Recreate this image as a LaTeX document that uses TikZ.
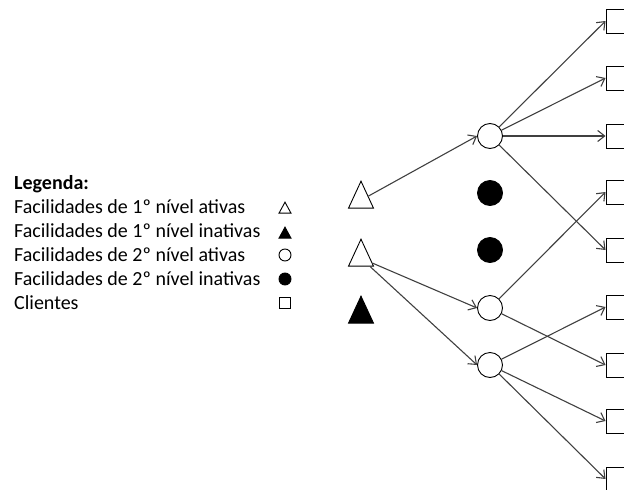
\documentclass[tikz,border=0pt]{standalone}
\usepackage{fontspec}
\setmainfont{Carlito}
\usetikzlibrary{shapes.geometric,arrows.meta}
\begin{document}
\begin{tikzpicture}[x=1pt,y=-1pt,
  client/.style={draw, line width=0.9pt, rectangle, minimum size=24pt, inner sep=0},
  fac/.style={draw, line width=0.9pt, circle, minimum size=25pt, inner sep=0},
  facoff/.style={fac, fill=black},
  tri/.style={draw, line width=0.9pt, isosceles triangle, isosceles triangle stretches, shape border rotate=90, minimum width=25pt, minimum height=27pt, inner sep=0, anchor=apex},
  trioff/.style={tri, fill=black},
  link/.style={draw=black!75, line width=1.1pt, -{Straight Barb[length=7pt,width=11pt]}},
  leg/.style={anchor=base west, inner sep=0, font=\fontsize{20}{24}\selectfont},
  legsym/.style={draw, line width=0.9pt, inner sep=0},
]
\useasboundingbox (0,0) rectangle (624,490);
\clip (0,0) rectangle (624,490);

% clients
\node[client] (s1) at (618,21) {};
\node[client] (s2) at (618,78) {};
\node[client] (s3) at (618,136) {};
\node[client] (s4) at (618,192) {};
\node[client] (s5) at (618,250) {};
\node[client] (s6) at (618,307) {};
\node[client] (s7) at (618,365) {};
\node[client] (s8) at (618,421) {};
\node[client] (s9) at (618,479) {};

% second level
\node[fac] (c1) at (490,136) {};
\node[facoff] (c2) at (490,193) {};
\node[facoff] (c3) at (490,250) {};
\node[fac] (c4) at (490,308) {};
\node[fac] (c5) at (490,365) {};

% first level
\node[tri] (t1) at (361,180) {};
\node[tri] (t2) at (361,238) {};
\node[trioff] (t3) at (361,295) {};

% links
\draw[link] (t1) -- (c1.west);
\draw[link] (t2) -- (c4.west);
\draw[link] (t2) -- (c5.west);
\draw[link] (c1) -- (s1.west);
\draw[link] (c1) -- (s2.west);
\draw[link] (c1) -- (s3.west);
\draw[link] (c1) -- (s5.west);
\draw[link] (c4) -- (s4.west);
\draw[link] (c4) -- (s7.west);
\draw[link] (c5) -- (s6.west);
\draw[link] (c5) -- (s8.west);
\draw[link] (c5) -- (s9.west);

% legend
\node[leg, font=\fontsize{20}{24}\selectfont\bfseries] (l0) at (14,189) {Legenda:};
\node[leg] (l1) at (14,213) {Facilidades de 1º nível ativas};
\node[leg] (l2) at (14,237) {Facilidades de 1º nível inativas};
\node[leg] (l3) at (14,261) {Facilidades de 2º nível ativas};
\node[leg] (l4) at (14,285) {Facilidades de 2º nível inativas};
\node[leg] (l5) at (14,309) {Clientes};

\node[legsym, isosceles triangle, isosceles triangle stretches, shape border rotate=90, minimum width=12pt, minimum height=11pt, anchor=apex] (k1) at (285,201) {};
\node[legsym, fill=black, isosceles triangle, isosceles triangle stretches, shape border rotate=90, minimum width=12pt, minimum height=11pt, anchor=apex] (k2) at (285,226) {};
\node[legsym, circle, minimum size=12pt] (k3) at (285,255) {};
\node[legsym, circle, fill=black, minimum size=12pt] (k4) at (285,279) {};
\node[legsym, rectangle, minimum width=11pt, minimum height=11pt] (k5) at (285,303) {};
\end{tikzpicture}
\end{document}
